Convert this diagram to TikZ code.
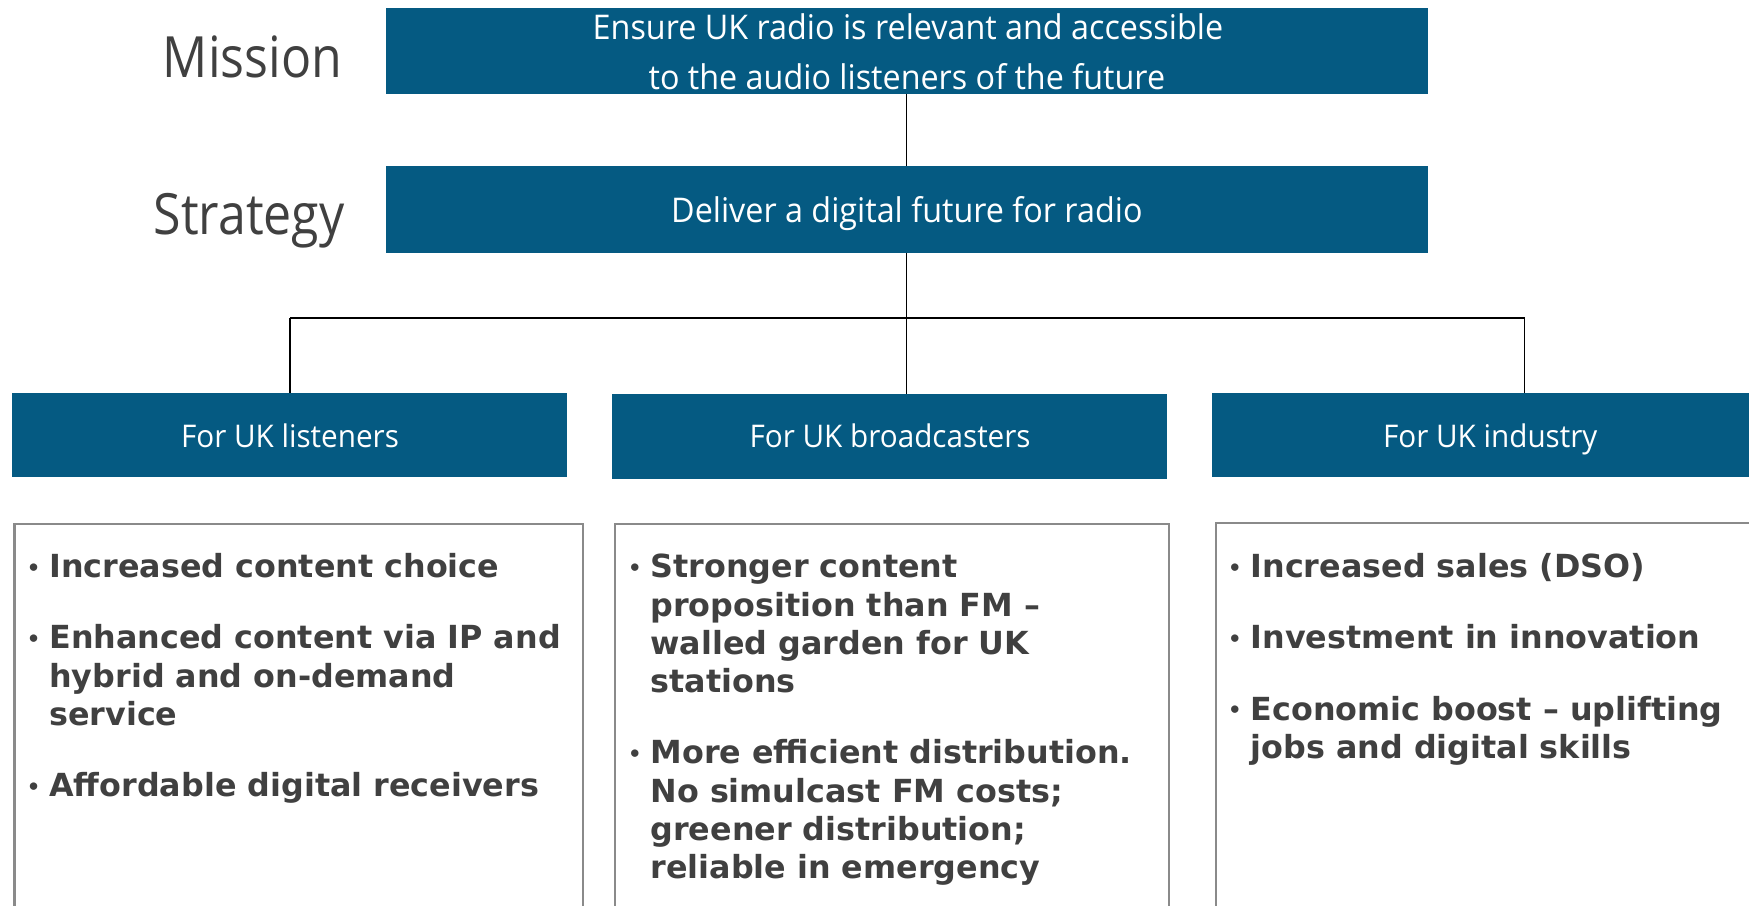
\documentclass[tikz,border=0pt]{standalone}
\usepackage{fontspec}
\setmainfont{Open Sans}
\newfontfamily\hfont{Open Sans}[FakeStretch=0.95]
\newfontfamily\lfont{Open Sans}[FakeStretch=0.88]
\newfontfamily\bfont{DejaVu Sans}
\definecolor{ofblue}{HTML}{055A82}
\definecolor{txtgray}{HTML}{404040}
\definecolor{boxgray}{HTML}{8A8A8A}
\newcommand\bul{\leavevmode\llap{\raisebox{2pt}{\fontsize{19}{19}\selectfont •}\hspace{8pt}}}
\begin{document}
\begin{tikzpicture}[x=1pt,y=-1pt,
  bluebox/.style={fill=ofblue, draw=none, anchor=north west, inner sep=0pt, outer sep=0pt},
  graybox/.style={draw=boxgray, line width=1.8pt, anchor=north west, inner sep=0pt, outer sep=0pt},
  conn/.style={draw=black, line width=1.1pt},
  hdr/.style={text=white, font=\hfont\fontsize{30.5}{45}\selectfont, anchor=base, inner sep=0pt},
  subhdr/.style={hdr, font=\hfont\fontsize{28}{34}\selectfont},
  lbl/.style={text=txtgray, font=\lfont\fontsize{51}{51}\selectfont, anchor=base east, inner sep=0pt},
  item/.style={text=txtgray, font=\bfont\bfseries\fontsize{28.5}{34.3}\selectfont, anchor=base west, inner sep=0pt}]
\useasboundingbox (0,0) rectangle (1568,812);
\clip (0,0) rectangle (1568,812);
% blue boxes
\node[bluebox, minimum width=934pt, minimum height=77pt] (mis) at (346,7) {};
\node[bluebox, minimum width=934pt, minimum height=78pt] (str) at (346,149) {};
\node[bluebox, minimum width=497pt, minimum height=76pt] (lis) at (11,352) {};
\node[bluebox, minimum width=497pt, minimum height=76pt] (bro) at (549,353) {};
\node[bluebox, minimum width=498pt, minimum height=76pt] (ind) at (1087,352) {};
% grey content boxes
\node[graybox, minimum width=510pt, minimum height=380pt] (c1) at (13,470) {};
\node[graybox, minimum width=497pt, minimum height=380pt] (c2) at (551,470) {};
\node[graybox, minimum width=520pt, minimum height=380pt] (c3) at (1090,469) {};
% labels
\node[lbl] (lmis) at (307,69.3) {Mission};
\node[lbl] (lstr) at (309,210) {Strategy};
% header texts
\node[hdr] (mt1) at (814,35) {Ensure UK radio is relevant and accessible};
\node[hdr] (mt2) at (813,80) {to the audio listeners of the future};
\node[hdr] (st) at (813,199.6) {Deliver a digital future for radio};
\node[subhdr] (lt) at (260,401.6) {For UK listeners};
\node[subhdr] (bt) at (798,401.6) {For UK broadcasters};
\node[subhdr] (it) at (1336,401.6) {For UK industry};
% connectors
\coordinate (jl) at (260,285);
\coordinate (jr) at (1367,285);
\draw[conn] (mis.south) -- (str.north);
\draw[conn] (str.south) -- (str.south |- bro.north);
\draw[conn] (jl) -- (jr);
\draw[conn] (jl) -- (jl |- lis.north);
\draw[conn] (jr) -- (jr |- ind.north);
% items
\node[item] (t1) at (44,518) {\parbox[t]{480pt}{\raggedright
\bul Increased content choice\\[29.5pt]
\bul Enhanced content via IP and\\ hybrid and on-demand\\ service\\[29.5pt]
\bul Affordable digital receivers}};
\node[item] (t2) at (583,518) {\parbox[t]{470pt}{\raggedright
\bul Stronger content\\ proposition than FM –\\ walled garden for UK\\ stations\\[29.5pt]
\bul More efficient distribution.\\ No simulcast FM costs;\\ greener distribution;\\ reliable in emergency}};
\node[item] (t3) at (1121,518) {\parbox[t]{440pt}{\raggedright
\bul Increased sales (DSO)\\[29.5pt]
\bul Investment in innovation\\[29.5pt]
\bul Economic boost – uplifting\\ jobs and digital skills}};
\end{tikzpicture}
\end{document}
